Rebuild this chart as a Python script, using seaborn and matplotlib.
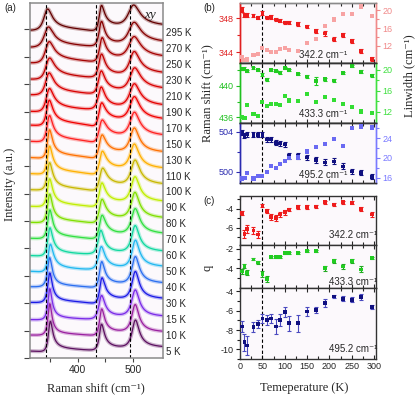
import numpy as np
import pandas as pd
import matplotlib
matplotlib.use('Agg')
import matplotlib.pyplot as plt
import matplotlib.transforms as mtransforms
from matplotlib.ticker import MultipleLocator, FixedLocator
import seaborn as sns


# DATA

temps = [5, 10, 15, 30, 40, 50, 60, 70, 80, 90, 100, 110, 130, 150, 170, 190, 210, 230, 250, 270, 295]

# 342.2 cm-1 mode
shift_342 = [349.0, 348.35, 348.35, 348.3, 348.05, 348.6, 348.1, 348.15, 347.85, 347.7, 347.5,
             347.5, 347.3, 347.0, 346.5, 346.2, 345.5, 346.0, 345.3, 344.1, 343.2]
shift_342_err = [0.3, 0.25, 0.25, 0.2, 0.2, 0.25, 0.2, 0.2, 0.2, 0.2, 0.2,
                 0.2, 0.2, 0.2, 0.25, 0.25, 0.25, 0.25, 0.25, 0.25, 0.25]
width_342 = [9.6, 8.8, 9.0, 9.9, 10.2, 11.5, 11.1, 10.6, 10.7, 11.3, 11.6,
             11.1, 10.9, 12.6, 13.6, 16.4, 17.9, 19.2, 19.1, 20.8, 18.7]
q_342 = [-4.42, -6.63, -6.1, -6.28, -6.7, -3.64, -4.24, -4.87, -4.95, -4.6, -4.35,
         -4.06, -3.82, -3.82, -3.75, -3.3, -3.54, -3.3, -3.37, -4.0, -4.6]
q_342_err = [0.2, 0.45, 0.4, 0.4, 0.4, 0.2, 0.2, 0.3, 0.3, 0.25, 0.25,
             0.2, 0.2, 0.2, 0.2, 0.15, 0.15, 0.15, 0.15, 0.2, 0.25]

# 433.3 cm-1 mode
shift_433 = [442.1, 442.2, 441.9, 442.3, 442.0, 441.4, 440.8, 442.0, 441.9, 441.7, 442.3,
             442.0, 441.5, 441.2, 440.6, 440.85, 440.7, 441.6, 442.5, 441.8, 441.3]
shift_433_err = [0.15, 0.15, 0.15, 0.15, 0.15, 0.2, 0.2, 0.15, 0.15, 0.15, 0.15,
                 0.15, 0.15, 0.15, 0.5, 0.2, 0.2, 0.15, 0.15, 0.15, 0.15]
width_433 = [10.9, 10.7, 13.3, 11.5, 11.2, 13.9, 13.1, 13.5, 13.5, 13.3, 15.0,
             14.1, 14.0, 15.3, 13.9, 14.75, 14.2, 13.5, 12.9, 12.0, 11.7]
q_433 = [-4.3, -3.75, -4.44, -3.07, -3.4, -4.6, -5.06, -2.82, -2.82, -2.82, -2.4,
         -2.4, -2.4, -2.2, -2.2, -3.96, -3.27, -3.79, -3.27, -4.1, -2.93]
q_433_err = [0.25, 0.25, 0.25, 0.1, 0.15, 0.3, 0.3, 0.1, 0.1, 0.1, 0.1,
             0.1, 0.1, 0.1, 0.1, 0.25, 0.2, 0.25, 0.2, 0.3, 0.15]

# 495.2 cm-1 mode
shift_495 = [503.9, 503.6, 503.75, 503.7, 503.7, 503.7, 503.25, 503.25, 502.9, 502.85, 502.75,
             501.6, 501.6, 501.45, 501.2, 500.95, 501.05, 500.55, 500.05, 499.9, 499.5]
shift_495_err = [0.25, 0.25, 0.25, 0.25, 0.25, 0.25, 0.25, 0.25, 0.25, 0.25, 0.25,
                 0.3, 0.3, 0.25, 0.3, 0.3, 0.3, 0.3, 0.25, 0.25, 0.25]
width_495 = [15.8, 15.9, 17.0, 15.8, 16.3, 16.4, 17.1, 18.4, 18.0, 18.7, 19.45,
             19.9, 20.1, 21.3, 22.2, 22.8, 23.8, 22.5, 26.0, 26.4, 26.2]
q_495 = [-7.65, -9.27, -9.6, -7.7, -7.36, -6.8, -6.95, -6.8, -7.65, -6.95, -6.15,
         -7.3, -7.3, -6.08, -5.9, -5.2, -4.52, -4.76, -4.86, -4.58, -5.62]
q_495_err = [0.55, 0.9, 1.0, 0.5, 0.4, 0.5, 0.5, 0.5, 0.8, 0.6, 0.55,
             0.8, 0.9, 0.45, 0.3, 0.4, 0.15, 0.25, 0.25, 0.35, 0.2]

mode_labels = ['342.2', '433.3', '495.2']
mode_centers = [342.2, 433.3, 495.2]
spec_amp = [1.85, 1.7, 2.2]   # peak strength of each mode in panel (a)

# spectrum colours, 5 K ... 295 K
spec_colors = ['#5c1060', '#9a20a0', '#7a2ae8', '#1a1ae6', '#2a6ef0', '#20b8f0', '#10d8a0',
               '#30e040', '#80e000', '#c0ee00', '#c8b800', '#ffb000', '#ff7000', '#ff2020',
               '#f00000', '#e40000', '#d80000', '#c00000', '#a40000', '#860000', '#640000']


# SETUP

sns.set_style('ticks')
plt.rcParams['font.family'] = ['Liberation Sans', 'DejaVu Sans']
plt.rcParams['axes.unicode_minus'] = False
SERIF = ['Liberation Serif', 'DejaVu Serif']
BG = '#fcf9fc'

W, H = 415, 397


def box(l, t, r, b):
    return [l / W, 1 - b / H, (r - l) / W, (b - t) / H]


fig = plt.figure(figsize=(W / 100, H / 100), dpi=100)


# PANEL (a): spectra drawn as Fano line shapes from the fitted parameters

shifts = [shift_342, shift_433, shift_495]
widths = [width_342, width_433, width_495]
qs = [q_342, q_433, q_495]

ax_a = fig.add_axes(box(30, 3, 163, 358))
ax_a.set_facecolor(BG)

wn = np.linspace(313, 555, 485)
frames = []
for i, T in enumerate(temps):
    spec = np.full_like(wn, float(i))
    for m in range(3):
        g = widths[m][i]
        q = qs[m][i]
        eps = (shifts[m][i] - wn) / (g / 2)
        spec += spec_amp[m] * np.sqrt(10 / g) * (q + eps) ** 2 / (1 + eps ** 2) / (1 + q ** 2)
    frames.append(pd.DataFrame({'wn': wn, 'I': spec, 'T': T}))
spec_df = pd.concat(frames, ignore_index=True)
pal = dict(zip(temps, spec_colors))

# light band standing in for the measured points, then the fit line
sns.lineplot(data=spec_df, x='wn', y='I', hue='T', palette=pal, estimator=None, sort=False,
             linewidth=2.8, alpha=0.3, legend=False, ax=ax_a)
sns.lineplot(data=spec_df, x='wn', y='I', hue='T', palette=pal, estimator=None, sort=False,
             linewidth=0.9, legend=False, ax=ax_a)

for c in mode_centers:
    ax_a.axvline(c, color='k', ls=(0, (3, 2)), lw=0.8)

trans = mtransforms.blended_transform_factory(ax_a.transAxes, ax_a.transData)
for i, T in enumerate(temps):
    ax_a.text(1.025, i, f'{T} K', transform=trans, va='center', ha='left', fontsize=7, clip_on=False)

ax_a.text(0.9, 0.965, 'xy', transform=ax_a.transAxes, family=SERIF, style='italic',
          fontsize=9.5, ha='center', va='center')

ax_a.set_xlim(313, 555)
ax_a.set_ylim(-0.35, 21.85)
ax_a.set_yticks(np.arange(13) * 1.7125 - 0.35)
ax_a.set_yticklabels([])
ax_a.set_xticks([400, 500])
ax_a.xaxis.set_minor_locator(FixedLocator([350, 450]))
ax_a.tick_params(axis='y', direction='out', length=4, width=0.8, color='#444')
ax_a.tick_params(axis='x', which='both', direction='out', length=3, width=0.8, color='#444',
                 labelsize=7.5, pad=2)
ax_a.set_xlabel('')
ax_a.set_ylabel('')
for s in ax_a.spines.values():
    s.set_color('#8a8a8a')
    s.set_linewidth(1.1)


# PANEL (b): Raman shift and linewidth vs temperature

b_style = [
    dict(dark='#ee1c1c', light='#f7a3a3', tick_l='#e02020', tick_r='#f08a8a',
         ylim=(342.7, 349.8), yt=[344, 348], ymin=[346], wlim=(8.2, 21.6), wt=[12, 16, 20],
         wmin=[14, 18], box=(240, 3, 376, 63), ty=0.13),
    dict(dark='#22cc22', light='#33dd33', tick_l='#20c020', tick_r='#40e040',
         ylim=(435.3, 442.9), yt=[436, 440], ymin=[438, 442], wlim=(9.8, 21.3), wt=[12, 16, 20],
         wmin=[14, 18], box=(240, 63, 376, 123), ty=0.15),
    dict(dark='#101080', light='#6a6af2', tick_l='#2b2bb0', tick_r='#7a7aff',
         ylim=(498.9, 504.9), yt=[500, 504], ymin=[502], wlim=(14.9, 27.1), wt=[16, 20, 24],
         wmin=[18, 22, 26], box=(240, 123, 376, 183), ty=0.13),
]
shift_errs = [shift_342_err, shift_433_err, shift_495_err]


def style_x(ax, labels=False):
    ax.set_xlim(0, 304)
    ax.xaxis.set_major_locator(MultipleLocator(50))
    ax.xaxis.set_minor_locator(MultipleLocator(25))
    ax.tick_params(axis='x', which='both', direction='in', top=True, bottom=True,
                   labelbottom=labels, length=3, width=0.8, labelsize=6.5, pad=2)
    ax.tick_params(axis='x', which='minor', length=2)
    ax.axvline(50, color='k', ls=(0, (3, 2)), lw=0.8, zorder=1)


for m, st in enumerate(b_style):
    ax = fig.add_axes(box(*st['box']))
    ax.set_facecolor(BG)
    axr = ax.twinx()
    style_x(ax)

    ax.errorbar(temps, shifts[m], yerr=shift_errs[m], fmt='none', ecolor=st['dark'],
                elinewidth=0.8, capsize=1.5, capthick=0.8, zorder=3)
    sns.scatterplot(x=temps, y=shifts[m], marker='s', s=7, color=st['dark'],
                    edgecolor='none', ax=ax, zorder=4)
    sns.scatterplot(x=temps, y=widths[m], marker='s', s=9, color=st['light'],
                    edgecolor='none', ax=axr, zorder=4)

    ax.set_ylim(*st['ylim'])
    ax.yaxis.set_major_locator(FixedLocator(st['yt']))
    ax.yaxis.set_minor_locator(FixedLocator(st['ymin']))
    ax.tick_params(axis='y', which='both', direction='out', length=3, width=0.8,
                   colors=st['tick_l'], labelsize=6.5, pad=1.5)
    ax.tick_params(axis='y', which='minor', length=2)

    axr.set_ylim(*st['wlim'])
    axr.yaxis.set_major_locator(FixedLocator(st['wt']))
    axr.yaxis.set_minor_locator(FixedLocator(st['wmin']))
    axr.tick_params(axis='y', which='both', direction='out', length=3, width=0.8,
                    colors=st['tick_r'], labelsize=6.5, pad=1.5)
    axr.tick_params(axis='y', which='minor', length=2)

    for a in (ax, axr):
        a.spines['left'].set_color(st['tick_l'])
        a.spines['right'].set_color(st['tick_r'])
        a.spines['top'].set_color('#8a8a8a' if m == 0 else '#333333')
        a.spines['bottom'].set_color('#333333')
        for s in a.spines.values():
            s.set_linewidth(1.0)
        a.set_ylabel('')

    ax.text(0.435, st['ty'], f'{mode_labels[m]} cm⁻¹', transform=ax.transAxes,
            fontsize=7, ha='left', va='center', zorder=5)


# PANEL (c): Fano parameter q vs temperature

q_errs = [q_342_err, q_433_err, q_495_err]
c_style = [
    dict(dot='#ee1c1c', bar='#ee1c1c', ylim=(-7.8, -2.65), yt=[-6, -4], ymin=[-7, -5, -3],
         box=(240, 196, 376, 245), ty=0.2),
    dict(dot='#22cc22', bar='#22aa22', ylim=(-6.0, -1.6), yt=[-4, -2], ymin=[-5, -3],
         box=(240, 245, 376, 288), ty=0.13),
    dict(dot='#101080', bar='#4a4ac0', ylim=(-11.0, -3.65), yt=[-10, -8, -6, -4],
         ymin=[-11, -9, -7, -5], box=(240, 288, 376, 359), ty=0.14),
]

for m, st in enumerate(c_style):
    ax = fig.add_axes(box(*st['box']))
    ax.set_facecolor(BG)
    style_x(ax, labels=(m == 2))
    ax.errorbar(temps, qs[m], yerr=q_errs[m], fmt='none', ecolor=st['bar'],
                elinewidth=0.8, capsize=1.5, capthick=0.8, zorder=3)
    sns.scatterplot(x=temps, y=qs[m], marker='s', s=7, color=st['dot'],
                    edgecolor='none', ax=ax, zorder=4)
    ax.set_ylim(*st['ylim'])
    ax.yaxis.set_major_locator(FixedLocator(st['yt']))
    ax.yaxis.set_minor_locator(FixedLocator(st['ymin']))
    ax.tick_params(axis='y', which='both', direction='out', length=3, width=0.8,
                   colors='#222222', labelsize=6.5, pad=1.5)
    ax.tick_params(axis='y', which='minor', length=2)
    for s in ax.spines.values():
        s.set_color('#333333')
        s.set_linewidth(1.0)
    ax.set_ylabel('')
    ax.text(0.655, st['ty'], f'{mode_labels[m]} cm⁻¹', transform=ax.transAxes,
            fontsize=7, ha='left', va='center', zorder=5)


# LABELS

def fx(px):
    return px / W


def fy(py):
    return 1 - py / H


fig.text(fx(4), fy(8), '(a)', fontsize=7, ha='left', va='center')
fig.text(fx(203), fy(8), '(b)', fontsize=7, ha='left', va='center')
fig.text(fx(203), fy(201), '(c)', fontsize=7, ha='left', va='center')

fig.text(fx(96), fy(388), 'Raman shift (cm⁻¹)', family=SERIF, fontsize=9, ha='center', va='center')
fig.text(fx(304), fy(388), 'Temeperature (K)', family=SERIF, fontsize=9, ha='center', va='center')
fig.text(fx(10), fy(184), 'Intensity (a.u.)', family=SERIF, fontsize=9, ha='center', va='center',
         rotation=90)
fig.text(fx(207), fy(93), 'Raman shift (cm⁻¹)', family=SERIF, fontsize=9, ha='center', va='center',
         rotation=90)
fig.text(fx(409), fy(76), 'Linwidth (cm⁻¹)', family=SERIF, fontsize=9, ha='center', va='center',
         rotation=90)
fig.text(fx(207), fy(268), 'q', family=SERIF, fontsize=9, ha='center', va='center', rotation=90)

fig.savefig('out.png', dpi=100, facecolor='white')
